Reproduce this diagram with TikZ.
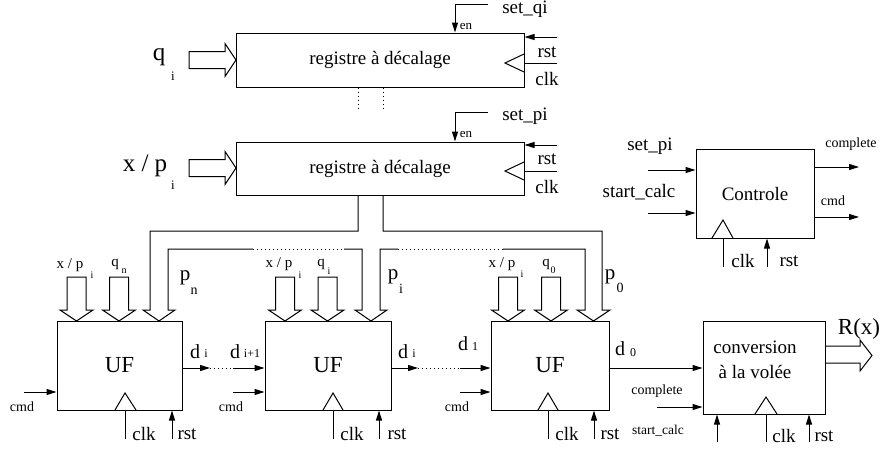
\documentclass[tikz,border=0pt]{standalone}
\usepackage{fontspec}
\setmainfont{Liberation Serif}
\usetikzlibrary{arrows.meta,calc}
\newcommand\fsz[1]{\fontsize{#1}{#1}\selectfont}
% rightward hollow bus arrow: x-start, x-tip, y-centre
\newcommand\hbusR[3]{\draw[wire] (#1,#3-8.5) -- (#2-11,#3-8.5) -- (#2-11,#3-16.5) -- (#2,#3) -- (#2-11,#3+16.5) -- (#2-11,#3+8.5) -- (#1,#3+8.5) -- cycle;}
% downward hollow bus arrow onto UF boxes: x-centre
\newcommand\vbusD[1]{\draw[wire] (#1-9.5,277) -- (#1-9.5,310) -- (#1-16.5,310) -- (#1,321) -- (#1+16.5,310) -- (#1+9.5,310) -- (#1+9.5,277) -- cycle;}
\begin{document}
\begin{tikzpicture}[x=1pt,y=-1pt,
  wire/.style={line width=1pt, line join=miter},
  arr/.style={wire,-{Triangle[length=10pt,width=6pt]}},
  dotl/.style={line width=1pt, dash pattern=on 1pt off 3pt},
  blk/.style={draw, line width=1pt, inner sep=0pt, align=center},
  lbl/.style={inner sep=0pt, anchor=center},
  big/.style={lbl, font=\fsz{19}},
  huge/.style={lbl, font=\fsz{25}},
  small/.style={lbl, font=\fsz{14}},
  tiny/.style={lbl, font=\fsz{11}},
]
\useasboundingbox (0,0) rectangle (883,453);

% ---------- shift registers ----------
\node[blk, minimum width=288pt, minimum height=54pt, font=\fsz{19}] (reg1) at (380,60) {registre à décalage};
\node[blk, minimum width=288pt, minimum height=53pt, font=\fsz{19}] (reg2) at (380,168.5) {registre à décalage};

% register 1 ports
\hbusR{189}{236}{60}
\node[huge] (lq) at (159,57) {q};
\node[tiny, font=\fsz{13}] (lqi) at (173,76) {i};
\coordinate (sq) at (488,4);
\coordinate (enq) at (455,4);
\draw[arr] (sq) -- (enq) -- (enq |- reg1.north);
\node[big] (lsq) at (525,9) {set\_qi};
\node[lbl, font=\fsz{13}] (lenq) at (466,26) {en};
\coordinate (rq) at (557,37);
\draw[arr] (rq) -- (rq -| reg1.east);
\node[big] (lrq) at (547,52) {rst};
\coordinate (cq) at (557,63);
\draw[wire] (cq) -- (cq -| reg1.east);
\draw[wire] (524,54) -- (505,63) -- (524,72);
\node[big] (lcq) at (547,79) {clk};
\draw[dotl] (358,88) -- (358,110);
\draw[dotl] (383,88) -- (383,110);

% register 2 ports
\hbusR{189}{236}{168}
\node[huge] (lxp) at (145,166) {x / p};
\node[lbl, font=\fsz{13}] (lxpi) at (173,185) {i};
\coordinate (sp) at (488,112);
\coordinate (enp) at (455,112);
\draw[arr] (sp) -- (enp) -- (enp |- reg2.north);
\node[big] (lsp) at (525,116) {set\_pi};
\node[lbl, font=\fsz{13}] (lenp) at (466,134) {en};
\coordinate (rp) at (557,145);
\draw[arr] (rp) -- (rp -| reg2.east);
\node[big] (lrp) at (547,159) {rst};
\coordinate (cp) at (557,171);
\draw[wire] (cp) -- (cp -| reg2.east);
\draw[wire] (524,162) -- (505,171) -- (524,180);
\node[big] (lcp) at (547,187) {clk};

% ---------- p bus from register 2 ----------
\draw[wire] (358,195) -- (358,231) -- (150,231) -- (150,310) -- (143,310) -- (159,321) -- (175,310) -- (168,310) -- (168,249) -- (253,249);
\draw[dotl] (253,249) -- (344,249);
\draw[wire] (344,249) -- (362,249) -- (362,310) -- (355,310) -- (371,321) -- (387,310) -- (380,310) -- (380,249) -- (398,249);
\draw[dotl] (398,249) -- (503,249);
\draw[wire] (503,249) -- (585,249) -- (585,310) -- (577,310) -- (593.5,321) -- (610,310) -- (602,310) -- (602,231) -- (383,231) -- (383,195);

% ---------- UF cells ----------
\node[blk, minimum width=125pt, minimum height=89pt, font=\fsz{23}] (uf1) at (119.5,365.5) {UF};
\node[blk, minimum width=126pt, minimum height=89pt, font=\fsz{23}] (uf2) at (328,365.5) {UF};
\node[blk, minimum width=118pt, minimum height=89pt, font=\fsz{23}] (uf3) at (550,365.5) {UF};

% top inputs
\vbusD{76.5} \vbusD{119}
\vbusD{285} \vbusD{327.5}
\vbusD{508} \vbusD{551}

\node[lbl, font=\fsz{15}] (l1x) at (70,265) {x / p};
\node[lbl, font=\fsz{10}] (l1xi) at (92,275) {i};
\node[lbl, font=\fsz{15}] (l1q) at (115,264) {q};
\node[lbl, font=\fsz{10}] (l1qn) at (124,271) {n};
\node[lbl, font=\fsz{21}] (l1p) at (185,278) {p};
\node[lbl, font=\fsz{14}] (l1pn) at (194,291) {n};

\node[lbl, font=\fsz{15}] (l2x) at (279,264) {x / p};
\node[lbl, font=\fsz{10}] (l2xi) at (300,275) {i};
\node[lbl, font=\fsz{15}] (l2q) at (321,264) {q};
\node[lbl, font=\fsz{10}] (l2qi) at (329,271) {i};
\node[lbl, font=\fsz{21}] (l2p) at (393,277) {p};
\node[lbl, font=\fsz{14}] (l2pi) at (401,289) {i};

\node[lbl, font=\fsz{15}] (l3x) at (502,264) {x / p};
\node[lbl, font=\fsz{10}] (l3xi) at (522,274) {i};
\node[lbl, font=\fsz{15}] (l3q) at (546,264) {q};
\node[lbl, font=\fsz{10}] (l3q0) at (553,270) {0};
\node[lbl, font=\fsz{21}] (l3p) at (610,277) {p};
\node[lbl, font=\fsz{14}] (l3p0) at (620,288) {0};

% d chain
\coordinate (d1a) at (210,368);
\coordinate (d1b) at (233,368);
\draw[arr] (uf1.east |- d1a) -- (d1a);
\draw[dotl] (d1a) -- (d1b);
\draw[arr] (d1b) -- (d1b -| uf2.west);
\coordinate (d2a) at (418,368);
\coordinate (d2b) at (460,368);
\draw[arr] (uf2.east |- d2a) -- (d2a);
\draw[dotl] (d2a) -- (d2b);
\draw[arr] (d2b) -- (d2b -| uf3.west);

\node[lbl, font=\fsz{20}] (ld1) at (195,352) {d};
\node[lbl, font=\fsz{12}] (ld1i) at (206,354) {i};
\node[lbl, font=\fsz{20}] (ld2) at (235,352) {d};
\node[lbl, font=\fsz{12}] (ld2i) at (252,354) {i+1};
\node[lbl, font=\fsz{20}] (ld3) at (403,352) {d};
\node[lbl, font=\fsz{12}] (ld3i) at (414,354) {i};
\node[lbl, font=\fsz{20}] (ld4) at (463,344) {d};
\node[lbl, font=\fsz{12}] (ld4i) at (475,347) {1};
\node[lbl, font=\fsz{20}] (ld5) at (620,349) {d};
\node[lbl, font=\fsz{12}] (ld5i) at (633,353) {0};

% cmd inputs
\coordinate (cm1) at (24,392);
\coordinate (cm2) at (233,392);
\coordinate (cm3) at (460,392);
\draw[arr] (cm1) -- (cm1 -| uf1.west);
\draw[arr] (cm2) -- (cm2 -| uf2.west);
\draw[arr] (cm3) -- (cm3 -| uf3.west);
\node[small] (lcm1) at (22,407) {cmd};
\node[small] (lcm2) at (231,407) {cmd};
\node[small] (lcm3) at (457,407) {cmd};

% clk / rst for UF
\draw[wire] (115,410) -- (125,393) -- (136,410);
\draw[wire] (323,410) -- (333,393) -- (343,410);
\draw[wire] (538,410) -- (548,393) -- (558,410);
\coordinate (k1) at (125,439);
\coordinate (k2) at (333,439);
\coordinate (k3) at (548,439);
\draw[wire] (k1) -- (k1 |- uf1.south);
\draw[wire] (k2) -- (k2 |- uf2.south);
\draw[wire] (k3) -- (k3 |- uf3.south);
\coordinate (r1) at (172,439);
\coordinate (r2) at (379,439);
\coordinate (r3) at (594,439);
\draw[arr] (r1) -- (r1 |- uf1.south);
\draw[arr] (r2) -- (r2 |- uf2.south);
\draw[arr] (r3) -- (r3 |- uf3.south);
\node[big] (lk1) at (144,434) {clk};
\node[big] (lr1) at (187,434) {rst};
\node[big] (lk2) at (352,434) {clk};
\node[big] (lr2) at (397,434) {rst};
\node[big] (lk3) at (567,434) {clk};
\node[big] (lr3) at (610,434) {rst};

% ---------- conversion ----------
\node[blk, minimum width=122pt, minimum height=93pt, font=\fsz{19}, align=center] (conv) at (764,367.5) {};
\node[big] (lconv1) at (755,347) {conversion};
\node[big] (lconv2) at (755,372) {à la volée};
\draw[arr] (uf3.east |- 0,368) -- (conv.west |- 0,368);
\draw[wire] (825,346) -- (860,346) -- (860,340) -- (872,355.5) -- (860,371) -- (860,363) -- (825,363);
\node[lbl, font=\fsz{23}] (lrx) at (859,329) {R(x)};
\coordinate (cpl) at (657,407);
\draw[arr] (cpl) -- (cpl -| conv.west);
\node[small] (lcpl) at (657,391) {complete};
\coordinate (stc) at (717,442);
\draw[arr] (stc) -- (stc |- conv.south);
\node[lbl, font=\fsz{13.5}] (lstc) at (658,431) {start\_calc};
\draw[wire] (755,414) -- (766,397) -- (777,414);
\coordinate (kc) at (766,442);
\draw[wire] (kc) -- (kc |- conv.south);
\coordinate (rc) at (809,442);
\draw[arr] (rc) -- (rc |- conv.south);
\node[big] (lkc) at (784,436) {clk};
\node[big] (lrc) at (824,436) {rst};

% ---------- Controle ----------
\node[blk, minimum width=118pt, minimum height=89pt, font=\fsz{19}] (ctl) at (755,193.5) {Controle};
\coordinate (isp) at (648,170);
\coordinate (isc) at (648,213);
\draw[arr] (isp) -- (isp -| ctl.west);
\draw[arr] (isc) -- (isc -| ctl.west);
\node[big] (lisp) at (650,146) {set\_pi};
\node[big] (lisc) at (639,192) {start\_calc};
\coordinate (ocp) at (859,167);
\coordinate (ocm) at (859,217);
\draw[arr] (ctl.east |- ocp) -- (ocp);
\draw[arr] (ctl.east |- ocm) -- (ocm);
\node[small] (locp) at (851,144) {complete};
\node[small] (locm) at (833,201) {cmd};
\draw[wire] (712,238) -- (723,220) -- (733,238);
\coordinate (kk) at (723,267);
\draw[wire] (kk) -- (kk |- ctl.south);
\coordinate (rr) at (767,267);
\draw[arr] (rr) -- (rr |- ctl.south);
\node[big] (lkk) at (743,261) {clk};
\node[big] (lrr) at (789,261) {rst};
\end{tikzpicture}
\end{document}
